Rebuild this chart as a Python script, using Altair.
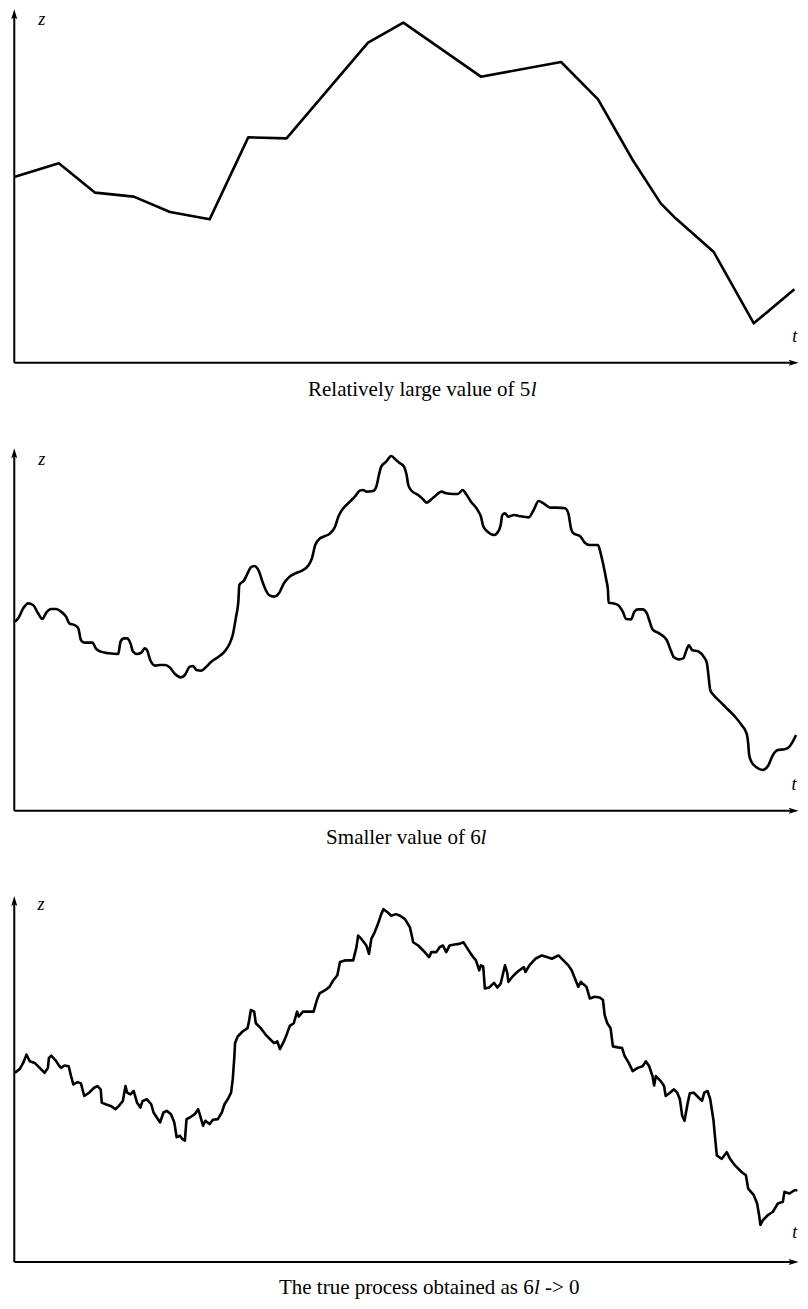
import altair as alt
import pandas as pd

# ---------------- data (t = time index, z = process value; arbitrary units) ----------------
p1_t = [45, 178, 288, 405, 515, 635, 752, 868, 1115, 1222, 1457, 1700, 1812, 1917, 2002, 2047, 2162, 2284, 2407]
p1_z = [558, 598, 510, 498, 452, 430, 676, 673, 960, 1020, 858, 902, 790, 608, 478, 433, 333, 118, 220]

p2_t = [45, 55, 70, 85, 100, 115, 128, 140, 155, 170, 185, 200, 210, 225, 237, 245, 255, 280, 290, 305,
        330, 358, 365, 375, 385, 395, 403, 415, 428, 438, 445, 455, 470, 485, 500, 515, 530, 548, 560, 575,
        585, 595, 610, 625, 640, 660, 680, 695, 705, 715, 722, 725, 740, 750, 760, 770, 785, 795, 805, 815,
        830, 845, 860, 875, 895, 915, 935, 945, 955, 970, 985, 1000, 1015, 1025, 1040, 1060, 1075, 1090, 1100, 1110,
        1130, 1140, 1148, 1155, 1170, 1185, 1200, 1212, 1224, 1232, 1237, 1247, 1267, 1282, 1292, 1307, 1322, 1337, 1352, 1372,
        1387, 1402, 1412, 1427, 1447, 1457, 1464, 1477, 1497, 1507, 1517, 1522, 1530, 1540, 1557, 1572, 1602, 1617, 1632, 1647,
        1667, 1687, 1712, 1722, 1730, 1737, 1757, 1772, 1787, 1812, 1820, 1827, 1837, 1842, 1844, 1857, 1872, 1887, 1897, 1912,
        1922, 1932, 1947, 1960, 1967, 1977, 1997, 2020, 2032, 2042, 2057, 2070, 2080, 2087, 2097, 2117, 2132, 2142, 2147, 2152,
        2162, 2182, 2202, 2227, 2247, 2262, 2267, 2270, 2277, 2292, 2310, 2327, 2342, 2357, 2377, 2392, 2402, 2412]
p2_z = [567, 577, 607, 622, 617, 592, 575, 594, 605, 605, 597, 582, 562, 557, 547, 512, 504, 504, 487, 477,
        472, 470, 507, 517, 517, 502, 477, 470, 474, 487, 482, 452, 435, 437, 437, 429, 410, 400, 407, 432,
        434, 422, 420, 432, 447, 460, 477, 500, 527, 582, 627, 677, 692, 712, 730, 734, 717, 687, 662, 647,
        642, 652, 682, 700, 712, 720, 737, 757, 797, 817, 824, 832, 852, 882, 907, 927, 942, 960, 962, 957,
        959, 972, 1007, 1032, 1047, 1064, 1052, 1042, 1032, 1007, 977, 960, 947, 934, 924, 934, 947, 957, 952, 950,
        950, 962, 950, 927, 902, 882, 854, 837, 827, 834, 857, 887, 892, 882, 887, 884, 880, 902, 929, 922,
        909, 909, 907, 892, 847, 832, 824, 804, 797, 797, 772, 742, 692, 662, 624, 622, 617, 597, 575, 574,
        597, 604, 604, 592, 572, 544, 532, 512, 482, 460, 454, 457, 482, 496, 482, 477, 462, 442, 402, 362,
        347, 327, 307, 282, 257, 232, 202, 167, 147, 130, 122, 134, 167, 182, 184, 192, 207, 227]

p3_t = [45, 60, 70, 80, 90, 105, 120, 135, 145, 148, 155, 168, 180, 185, 195, 208, 215, 222, 235, 245,
        255, 270, 285, 295, 305, 308, 320, 335, 350, 360, 372, 380, 385, 395, 405, 415, 425, 432, 445, 458,
        465, 475, 485, 495, 505, 518, 528, 535, 545, 552, 560, 565, 575, 590, 600, 605, 615, 622, 635, 645,
        660, 672, 680, 690, 700, 705, 710, 712, 720, 735, 750, 755, 760, 770, 775, 790, 805, 820, 830, 840,
        848, 860, 870, 878, 890, 900, 905, 918, 930, 950, 960, 968, 985, 998, 1010, 1022, 1030, 1045, 1070, 1080,
        1085, 1095, 1110, 1118, 1125, 1135, 1145, 1155, 1162, 1175, 1185, 1200, 1212, 1227, 1242, 1252, 1267, 1282, 1300, 1307,
        1322, 1332, 1342, 1352, 1362, 1377, 1392, 1404, 1417, 1430, 1442, 1452, 1457, 1464, 1469, 1482, 1497, 1507, 1517, 1530,
        1537, 1540, 1552, 1567, 1587, 1592, 1604, 1622, 1642, 1657, 1672, 1692, 1707, 1722, 1732, 1742, 1752, 1760, 1777, 1787,
        1802, 1817, 1827, 1832, 1840, 1850, 1857, 1872, 1885, 1892, 1905, 1917, 1932, 1947, 1957, 1967, 1977, 1982, 1987, 2002,
        2012, 2017, 2030, 2042, 2052, 2060, 2067, 2074, 2084, 2090, 2102, 2112, 2127, 2134, 2144, 2152, 2162, 2167, 2172, 2187,
        2202, 2212, 2227, 2247, 2260, 2267, 2284, 2294, 2300, 2304, 2312, 2327, 2342, 2357, 2372, 2377, 2392, 2407, 2416]
p3_z = [572, 584, 602, 627, 607, 602, 587, 572, 587, 617, 624, 610, 592, 587, 594, 592, 562, 537, 544, 540,
        502, 512, 527, 532, 522, 482, 477, 472, 462, 472, 487, 532, 512, 507, 517, 482, 467, 487, 492, 477,
        452, 437, 422, 452, 457, 447, 422, 377, 382, 372, 367, 432, 437, 447, 462, 447, 412, 427, 417, 430,
        432, 452, 477, 492, 512, 552, 622, 662, 682, 697, 707, 732, 762, 757, 722, 707, 687, 672, 662, 667,
        644, 667, 692, 714, 722, 757, 742, 757, 757, 757, 792, 812, 822, 832, 852, 867, 907, 912, 912, 952,
        987, 977, 957, 932, 977, 997, 1022, 1052, 1067, 1057, 1047, 1052, 1047, 1037, 1012, 967, 957, 942, 922, 937,
        937, 952, 957, 937, 957, 960, 962, 967, 947, 927, 912, 882, 897, 894, 827, 830, 844, 830, 842, 897,
        874, 847, 862, 877, 892, 877, 897, 917, 927, 922, 917, 927, 912, 897, 882, 857, 832, 847, 832, 797,
        802, 800, 792, 747, 722, 707, 652, 649, 647, 624, 602, 577, 587, 592, 607, 592, 562, 534, 562, 547,
        532, 502, 512, 522, 512, 492, 442, 427, 482, 510, 512, 502, 487, 512, 517, 492, 427, 372, 322, 312,
        332, 312, 292, 272, 262, 222, 202, 177, 142, 112, 127, 142, 152, 177, 182, 212, 207, 217, 217]

captions = [
    ("Relatively large value of 5", "l", ""),
    ("Smaller value of 6", "l", ""),
    ("The true process obtained as 6", "l", "-> 0"),
]

# ---------------- layout / style ----------------
W = 792
T_DOMAIN = [24, 2424]
T_AXIS = 43
T_ARROW = 2420
SERIF = "Liberation Serif"

panels = [
    dict(h=430, dom=[-226, 1064], ztip=1060, interp="linear", zl=(126, 1027), tl=(2408, 76),
         cap=(933, 1608, None), capz=-100),
    dict(h=450, dom=[-232, 1118], ztip=1087, interp="monotone", zl=(126, 1052), tl=(2406, 77),
         cap=(988, 1456, None), capz=-100),
    dict(h=411, dom=[-112, 1131], ztip=1107, interp="linear", zl=(124, 1080), tl=(2408, 87),
         cap=(845, 1618, 1651), capz=-97),
]
series = [(p1_t, p1_z), (p2_t, p2_z), (p3_t, p3_z)]

one = pd.DataFrame({"k": [0]})
UP_ARROW = "M0,0L-0.6,2L0,1.6L0.6,2Z"
RIGHT_ARROW = "M0,0L-2,-0.6L-1.6,0L-2,0.6Z"


def make_panel(i):
    p = panels[i]
    t, z = series[i]
    df = pd.DataFrame({"t": t, "z": z})
    xs = alt.Scale(domain=T_DOMAIN, nice=False, zero=False)
    ys = alt.Scale(domain=p["dom"], nice=False, zero=False)

    def X(v):
        return alt.XDatum(v, type="quantitative", scale=xs, axis=None)

    def Y(v):
        return alt.YDatum(v, type="quantitative", scale=ys, axis=None)

    line = alt.Chart(df).mark_line(color="black", strokeWidth=2.6, interpolate=p["interp"],
                                   strokeJoin="round", clip=False).encode(
        x=alt.X("t:Q", scale=xs, axis=None),
        y=alt.Y("z:Q", scale=ys, axis=None),
    )
    yaxis = alt.Chart(one).mark_rule(color="black", strokeWidth=2).encode(
        x=X(T_AXIS), y=Y(0), y2=alt.Y2Datum(p["ztip"] - 20))
    xaxis = alt.Chart(one).mark_rule(color="black", strokeWidth=2).encode(
        x=X(T_AXIS), x2=alt.X2Datum(T_ARROW - 20), y=Y(0))
    uparrow = alt.Chart(one).mark_point(shape=UP_ARROW, filled=True, color="black", opacity=1,
                                        size=100, strokeWidth=0).encode(
        x=X(T_AXIS), y=Y(p["ztip"]))
    rarrow = alt.Chart(one).mark_point(shape=RIGHT_ARROW, filled=True, color="black", opacity=1,
                                       size=100, strokeWidth=0).encode(
        x=X(T_ARROW), y=Y(0))
    zlab = alt.Chart(one).mark_text(text="z", font=SERIF, fontStyle="italic", fontSize=18,
                                    color="black", align="center", baseline="middle").encode(
        x=X(p["zl"][0]), y=Y(p["zl"][1]))
    tlab = alt.Chart(one).mark_text(text="t", font=SERIF, fontStyle="italic", fontSize=18,
                                    color="black", align="center", baseline="middle").encode(
        x=X(p["tl"][0]), y=Y(p["tl"][1]))
    a, b, c = captions[i]
    xa, xb, xc = p["cap"]
    capA = alt.Chart(one).mark_text(text=a, font=SERIF, fontSize=21, color="black",
                                    align="left", baseline="alphabetic").encode(
        x=X(xa), y=Y(p["capz"]))
    capB = alt.Chart(one).mark_text(text=b, font=SERIF, fontStyle="italic", fontSize=21,
                                    color="black", align="left", baseline="alphabetic").encode(
        x=X(xb), y=Y(p["capz"]))
    layers = [yaxis, xaxis, uparrow, rarrow, line, zlab, tlab, capA, capB]
    if c:
        capC = alt.Chart(one).mark_text(text=c, font=SERIF, fontSize=21, color="black",
                                        align="left", baseline="alphabetic").encode(
            x=X(xc), y=Y(p["capz"]))
        layers.append(capC)
    return alt.layer(*layers).properties(width=W, height=p["h"])


chart = alt.vconcat(*[make_panel(i) for i in range(3)], spacing=0).properties(
    padding=0, background="white"
).configure_view(stroke=None)

chart.save("out.html", embed_options={"renderer": "svg", "actions": False})
